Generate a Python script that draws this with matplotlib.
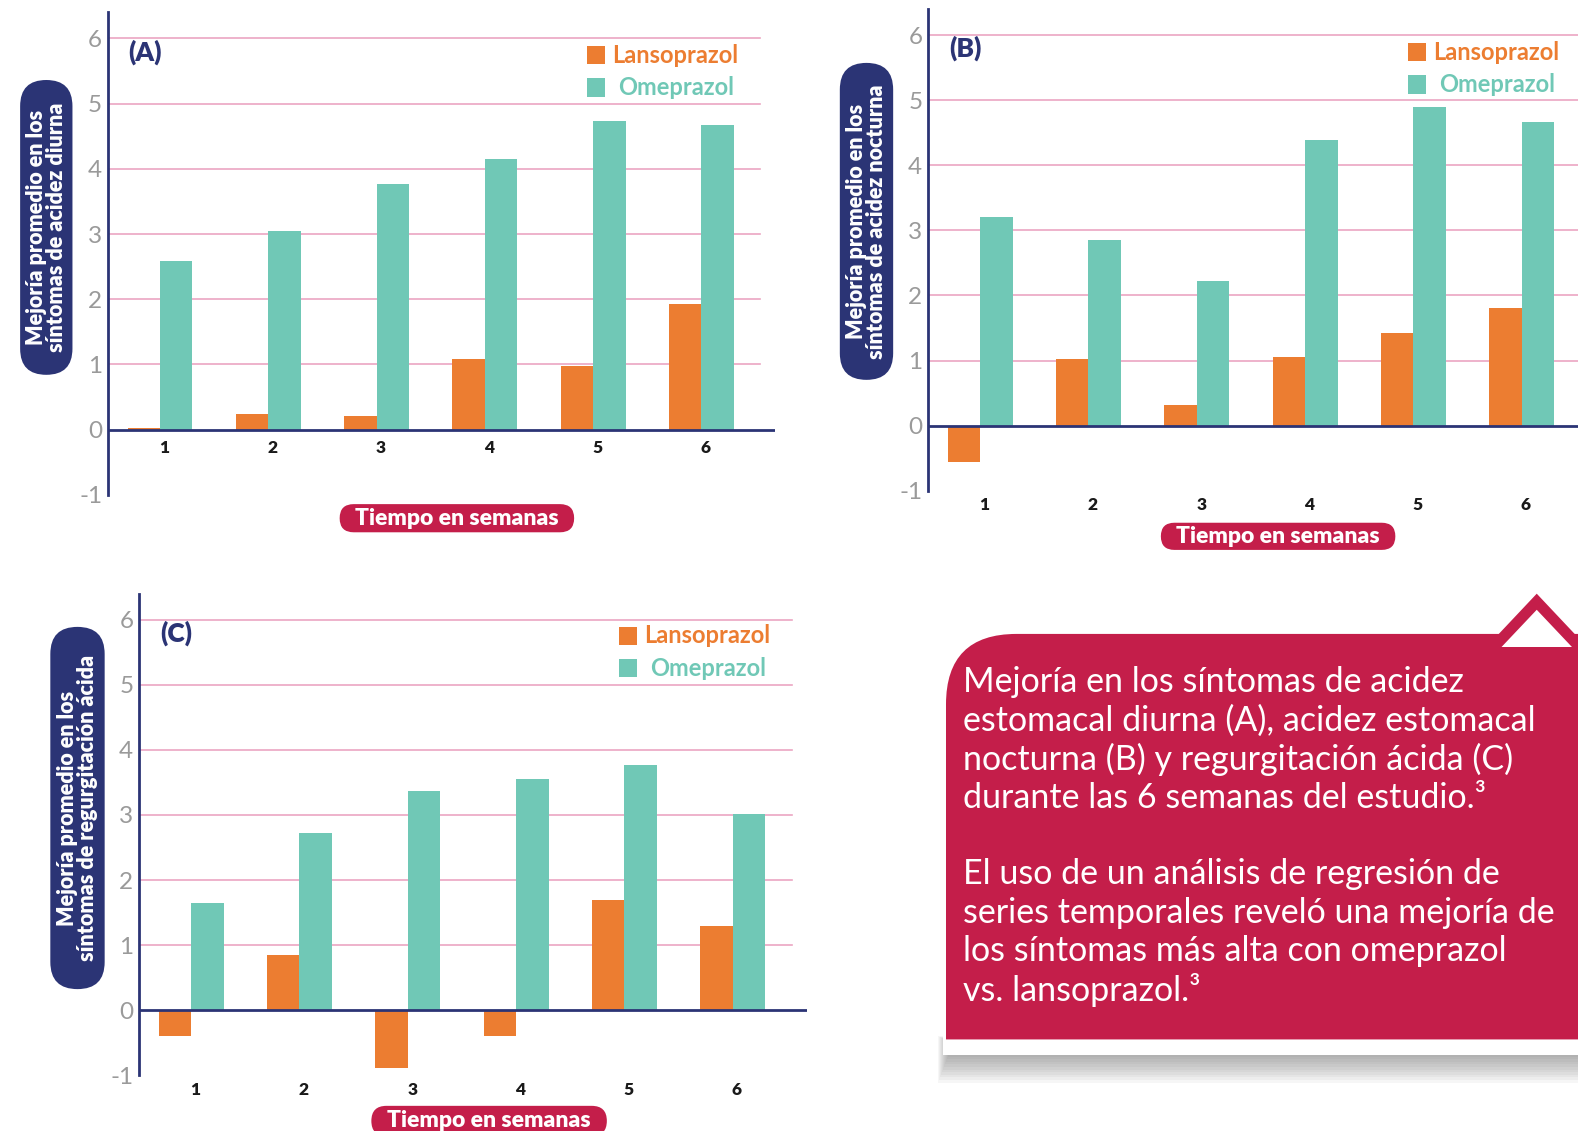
import matplotlib.pyplot as plt
import numpy as np
from matplotlib.patches import FancyBboxPatch, Rectangle, PathPatch, Polygon
from matplotlib.path import Path

# datos
semanas = ['1', '2', '3', '4', '5', '6']
lanso_a = [0.02, 0.24, 0.21, 1.08, 0.97, 1.93]
omep_a = [2.59, 3.05, 3.77, 4.15, 4.73, 4.67]
lanso_b = [-0.56, 1.03, 0.32, 1.06, 1.43, 1.80]
omep_b = [3.20, 2.85, 2.22, 4.38, 4.90, 4.67]
lanso_c = [-0.39, 0.85, -0.88, -0.39, 1.69, 1.29]
omep_c = [1.65, 2.72, 3.37, 3.55, 3.76, 3.02]
y_ticks = [-1, 0, 1, 2, 3, 4, 5, 6]
y_labels = ['-1', '0', '1', '2', '3', '4', '5', '6']
series = ['Lansoprazol', 'Omeprazol']

NARANJA = '#EC7D31'
VERDE = '#70C8B6'
AZUL = '#2B3475'
ROSA = '#C41E4A'
GRID = '#EBA6C2'
FONT = 'Lato'

W, H = 1568, 1124  # coordenadas de maquetacion
fig = plt.figure(figsize=(15.78, 11.31), dpi=100)
bg = fig.add_axes([0, 0, 1, 1])
bg.set_xlim(0, W)
bg.set_ylim(H, 0)
bg.axis('off')


def pill(cx, cy, w, h, color, text, rot=0, size=14):
    r = min(w, h) / 2
    bg.add_patch(FancyBboxPatch((cx - w / 2, cy - h / 2), w, h,
                                boxstyle=f"round,pad=0,rounding_size={r}",
                                fc=color, ec='none', zorder=2))
    bg.text(cx, cy, text, rotation=rot, ha='center', va='center', color='white',
            fontsize=size, fontweight='heavy', family=FONT, linespacing=0.92,
            multialignment='center', zorder=3)


def panel(x0, x1, y_zero, unit, lanso, omep, grid_end, cat_y):
    y_top = y_zero - 6.4 * unit
    y_bot = y_zero + 1.0 * unit
    ax = fig.add_axes([x0 / W, 1 - y_bot / H, (x1 - x0) / W, (y_bot - y_top) / H])
    ax.patch.set_alpha(0)
    x = np.arange(len(semanas))
    paso = 107.6
    ax.set_xlim(-52 / paso, (x1 - x0 - 52) / paso)
    ax.set_ylim(-1, 6.4)
    for v in y_ticks[2:]:
        ax.axhline(v, color=GRID, lw=1.2, xmax=grid_end, zorder=0)
    ax.bar(x - 0.15, lanso, width=0.3, color=NARANJA, zorder=2)
    ax.bar(x + 0.15, omep, width=0.3, color=VERDE, zorder=2)
    ax.axhline(0, color=AZUL, lw=2, zorder=3)
    for s in ['top', 'right', 'bottom']:
        ax.spines[s].set_visible(False)
    ax.spines['left'].set_color(AZUL)
    ax.spines['left'].set_linewidth(2)
    ax.set_xticks([])
    ax.set_yticks(y_ticks)
    ax.set_yticklabels(y_labels, family=FONT, fontweight='normal')
    ax.tick_params(axis='y', length=0, pad=4, labelsize=17.5, labelcolor='#9A9A9A')
    for i, s in enumerate(semanas):
        ax.text(i + 0.04, cat_y, s, ha='center', va='center', fontsize=12.5,
                fontweight='heavy', family=FONT, color='#1a1a1a')
    return ax


def leyenda(x, y, letra, lx, ly):
    bg.text(lx, ly, letra, ha='left', va='center', fontsize=19, fontweight='heavy',
            family=FONT, color=AZUL)
    for k, (nombre, col) in enumerate(zip(series, [NARANJA, VERDE])):
        yy = y + 32 * k
        bg.add_patch(Rectangle((x, yy - 9), 18, 18, fc=col, ec='none'))
        bg.text(x + 25 + 6 * k, yy, nombre, ha='left', va='center', fontsize=17,
                fontweight='bold', family=FONT, color=col)


# (A)
panel(107, 770, 427, 64.8, lanso_a, omep_a, 0.977, -0.28)
leyenda(583, 55, '(A)', 127, 52)
pill(46, 226, 52, 293, AZUL, 'Mejoría promedio en los\nsíntomas de acidez diurna',
     rot=90, size=15.5)
pill(454, 515, 233, 28, ROSA, 'Tiempo en semanas', size=16.5)

# (B)
panel(922, 1568, 423, 64.7, lanso_b, omep_b, 1.0, -1.22)
leyenda(1399, 52, '(B)', 943, 48)
pill(861, 220, 53, 315, AZUL, 'Mejoría promedio en los\nsíntomas de acidez nocturna',
     rot=90, size=15.5)
pill(1270, 533, 233, 27, ROSA, 'Tiempo en semanas', size=16.5)

# (C)
panel(138, 802, 1004, 64.7, lanso_c, omep_c, 0.977, -1.22)
leyenda(615, 632, '(C)', 159, 629)
pill(77, 803, 54, 360, AZUL, 'Mejoría promedio en los\nsíntomas de regurgitación ácida',
     rot=90, size=15.5)
pill(486, 1114, 234, 30, ROSA, 'Tiempo en semanas', size=16.5)

# recuadro de texto
for k in range(14):
    bg.add_patch(Rectangle((932 + k, 1030 + k * 0.4), W, 46 - 3 * k, fc='#555555',
                           ec='none', alpha=0.05, zorder=1))
bg.add_patch(Rectangle((937, 700), W, 348, fc='white', ec='none', zorder=1.5))
r = 70
verts = [(940, 1033), (940, 630 + r), (940, 630), (940 + r, 630), (W, 630), (W, 1033), (940, 1033)]
codes = [Path.MOVETO, Path.LINETO, Path.CURVE3, Path.CURVE3, Path.LINETO, Path.LINETO, Path.CLOSEPOLY]
bg.add_patch(PathPatch(Path(verts, codes), fc=ROSA, ec='none', zorder=2))
bg.add_patch(Polygon([(1527, 590), (1478, 642), (1576, 642)], closed=True, fc=ROSA, ec='none', zorder=2))
bg.add_patch(Polygon([(1527, 606), (1492, 643), (1562, 643)], closed=True, fc='white', ec='none', zorder=2.5))

lineas = ['Mejoría en los síntomas de acidez',
          'estomacal diurna (A), acidez estomacal',
          'nocturna (B) y regurgitación ácida (C)',
          'durante las 6 semanas del estudio.³',
          '',
          'El uso de un análisis de regresión de',
          'series temporales reveló una mejoría de',
          'los síntomas más alta con omeprazol',
          'vs. lansoprazol.³']
for k, t in enumerate(lineas):
    bg.text(957, 678 + 38.2 * k, t, ha='left', va='center', fontsize=24.5,
            fontweight='normal', family=FONT, color='white', zorder=3)

fig.savefig('out.png', dpi=100)
